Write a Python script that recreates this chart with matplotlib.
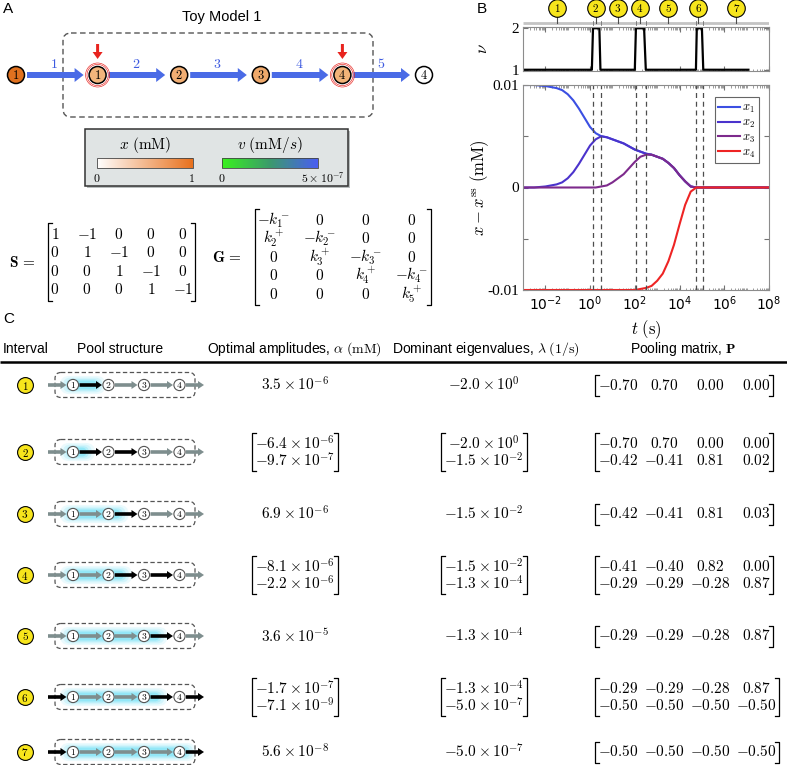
import numpy as np
import matplotlib.pyplot as plt
from matplotlib.patches import Circle, FancyBboxPatch, FancyArrow, Rectangle
from matplotlib.colors import LinearSegmentedColormap
from matplotlib.ticker import FixedLocator, LogLocator, NullFormatter, LogFormatterMathtext

plt.rcParams["mathtext.fontset"] = "cm"
plt.rcParams["font.family"] = ["DejaVu Sans"]

W, H = 787, 765
SANS = ["Liberation Sans", "DejaVu Sans"]
SERIF = ["Liberation Serif", "DejaVu Serif"]

# ---------------- data: panel A ----------------
node_labels = ["1", "1", "2", "3", "4", "4"]
node_colors = ["#e0711f", "#f3b57c", "#f1ae73", "#efa96b", "#f2b378", "#ffffff"]
rate_labels = ["1", "2", "3", "4", "5"]
perturbed_nodes = [1, 4]

S_rows = [["1", "-1", "0", "0", "0"],
          ["0", "1", "-1", "0", "0"],
          ["0", "0", "1", "-1", "0"],
          ["0", "0", "0", "1", "-1"]]
G_rows = [[r"-k_1^-", "0", "0", "0"],
          [r"k_2^+", r"-k_2^-", "0", "0"],
          ["0", r"k_3^+", r"-k_3^-", "0"],
          ["0", "0", r"k_4^+", r"-k_4^-"],
          ["0", "0", "0", r"k_5^+"]]

# ---------------- data: panel B ----------------
nu_t = [1e-3, 1.2, 1.35, 2.6, 2.9, 100, 112, 260, 310, 5.4e4, 5.9e4, 1.0e5, 1.15e5, 1.2e7]
nu_v = [1, 1, 2, 2, 1, 1, 2, 2, 1, 1, 2, 2, 1, 1]
bounds_t = [1.3, 3.0, 110, 310, 5.7e4, 1.15e5]
interval_t = [0.034, 1.8, 17, 166, 3.2e3, 6.8e4, 3.5e6]
interval_names = ["1", "2", "3", "4", "5", "6", "7"]

log_t = [-3, -2.5, -2, -1.75, -1.5, -1.25, -1, -0.75, -0.5, -0.25, 0, 0.25, 0.5,
         0.75, 1, 1.25, 1.5, 1.75, 2, 2.25, 2.5, 2.75, 3, 3.25, 3.5, 3.75, 4,
         4.25, 4.5, 4.75, 5, 6, 7, 8]
x1 = [0.0100, 0.0100, 0.0099, 0.0098, 0.0097, 0.0095, 0.0091, 0.0085, 0.0077,
      0.0068, 0.0059, 0.0053, 0.0050, 0.0049, 0.0047, 0.0045, 0.0043, 0.0040,
      0.0037, 0.0035, 0.0033, 0.0032, 0.0030, 0.0028, 0.0024, 0.0019, 0.0012,
      0.0006, 0.0001, 0.0, 0.0, 0.0, 0.0, 0.0]
x2 = [0.0, 0.0, 0.0001, 0.0002, 0.0003, 0.0005, 0.0009, 0.0015, 0.0023,
      0.0032, 0.0041, 0.0047, 0.0050, 0.0049, 0.0047, 0.0045, 0.0043, 0.0040,
      0.0037, 0.0035, 0.0033, 0.0032, 0.0030, 0.0028, 0.0024, 0.0019, 0.0012,
      0.0006, 0.0001, 0.0, 0.0, 0.0, 0.0, 0.0]
x3 = [0.0, 0.0, 0.0, 0.0, 0.0, 0.0, 0.0, 0.0, 0.0, 0.0, 0.0, 0.0, 0.0001,
      0.0002, 0.0005, 0.0009, 0.0013, 0.0019, 0.0025, 0.0030, 0.0032, 0.0032,
      0.0030, 0.0028, 0.0024, 0.0019, 0.0012, 0.0006, 0.0001, 0.0, 0.0, 0.0,
      0.0, 0.0]
x4 = [-0.0100] * 19 + [-0.0099, -0.0098, -0.0096, -0.0091, -0.0084, -0.0072,
                       -0.0056, -0.0036, -0.0017, -0.0004, 0.0, 0.0, 0.0, 0.0, 0.0]
curve_colors = ["#3b4fe2", "#4b33cc", "#7d2a8c", "#ee2424"]
curve_names = [r"$x_1$", r"$x_2$", r"$x_3$", r"$x_4$"]

# ---------------- data: panel C ----------------
amplitudes = [[r"3.5\times10^{-6}"],
              [r"-6.4\times10^{-6}", r"-9.7\times10^{-7}"],
              [r"6.9\times10^{-6}"],
              [r"-8.1\times10^{-6}", r"-2.2\times10^{-6}"],
              [r"3.6\times10^{-5}"],
              [r"-1.7\times10^{-7}", r"-7.1\times10^{-9}"],
              [r"5.6\times10^{-8}"]]
eigenvalues = [[r"-2.0\times10^{0}"],
               [r"-2.0\times10^{0}", r"-1.5\times10^{-2}"],
               [r"-1.5\times10^{-2}"],
               [r"-1.5\times10^{-2}", r"-1.3\times10^{-4}"],
               [r"-1.3\times10^{-4}"],
               [r"-1.3\times10^{-4}", r"-5.0\times10^{-7}"],
               [r"-5.0\times10^{-7}"]]
pooling = [[[-0.70, 0.70, 0.00, 0.00]],
           [[-0.70, 0.70, 0.00, 0.00], [-0.42, -0.41, 0.81, 0.02]],
           [[-0.42, -0.41, 0.81, 0.03]],
           [[-0.41, -0.40, 0.82, 0.00], [-0.29, -0.29, -0.28, 0.87]],
           [[-0.29, -0.29, -0.28, 0.87]],
           [[-0.29, -0.29, -0.28, 0.87], [-0.50, -0.50, -0.50, -0.50]],
           [[-0.50, -0.50, -0.50, -0.50]]]
# dominant arrows: in, 1->2, 2->3, 3->4, out
active = [[0, 1, 0, 0, 0], [0, 1, 1, 0, 0], [0, 0, 1, 0, 0], [0, 0, 1, 1, 0],
          [0, 0, 0, 1, 0], [1, 0, 0, 1, 1], [1, 0, 0, 0, 1]]
# pooled region (node index from, to)
glow = [(0, 0.55), (0, 0.25), (0, 1.2), (0, 1.3), (0, 2.3), (0, 2.3), (0, 3.1)]
row_y = [385, 452, 514, 575, 636, 697, 752]

fig = plt.figure(figsize=(7.87, 7.65), dpi=100)
ax0 = fig.add_axes([0, 0, 1, 1])
ax0.set_xlim(0, W)
ax0.set_ylim(H, 0)
ax0.axis("off")


def tex(s):
    return "$" + s + "$"


pending = []


def put_matrix(xs, cy, rows, dy, fs=11, bracket=True, pad=3):
    nr = len(rows)
    arts = []
    for i, row in enumerate(rows):
        for j, s in enumerate(row):
            y = cy + (i - (nr - 1) / 2) * dy
            arts.append(ax0.text(xs[j], y, tex(s), ha="center", va="center", fontsize=fs))
    if bracket:
        pending.append((arts, cy, nr, dy, pad))


# ---------------- panel A ----------------
ax0.text(3, 9, "A", fontsize=11, family=SANS, va="center")
ax0.text(222, 17, "Toy Model 1", fontsize=10.5, family=SANS, ha="center", va="center")
ax0.add_patch(FancyBboxPatch((63, 33), 310, 84, boxstyle="round,pad=0,rounding_size=8",
                             fc="none", ec="#555555", lw=1, ls=(0, (4, 2.5))))
node_x = [16 + 81.6 * i for i in range(6)]
ny = 75
for i in range(5):
    x_start = node_x[i] + 11
    x_end = node_x[i + 1] - 14
    ax0.add_patch(FancyArrow(x_start, ny, x_end - x_start, 0, width=6, head_width=14,
                             head_length=9, length_includes_head=True,
                             color="#4a6be6", lw=0, zorder=2))
    ax0.text((x_start + x_end) / 2 - 1, 64, tex(rate_labels[i]), color="#3d5ae0",
             fontsize=10, ha="center", va="center")
for i, (x, lab, c) in enumerate(zip(node_x, node_labels, node_colors)):
    ax0.add_patch(Circle((x, ny), 8.5, fc=c, ec="k", lw=1.1, zorder=3))
    ax0.text(x, ny + 0.5, tex(lab), fontsize=9, ha="center", va="center", zorder=4)
for i in perturbed_nodes:
    for r in (10.6, 12.0):
        ax0.add_patch(Circle((node_x[i], ny), r, fc="none", ec="#e8231e", lw=0.45,
                             zorder=3))
    ax0.add_patch(FancyArrow(node_x[i], 44, 0, 15, width=3, head_width=10, head_length=7,
                             length_includes_head=True, color="#e8231e", lw=0, zorder=3))

# colour legend box
ax0.add_patch(Rectangle((87, 131), 263, 57, fc="#b9bebe", ec="none", zorder=1))
ax0.add_patch(Rectangle((85, 129), 263, 57, fc="#e0e4e4", ec="#333333", lw=1.1, zorder=2))
grad = np.linspace(0, 1, 256).reshape(1, -1)
cm_x = LinearSegmentedColormap.from_list("cx", ["#ffffff", "#e8711d"])
cm_v = LinearSegmentedColormap.from_list("cv", ["#39f21e", "#3c9a6c", "#4a5ef2"])
ax0.imshow(grad, extent=(97, 193, 168, 158), aspect="auto", cmap=cm_x, zorder=3)
ax0.imshow(grad, extent=(222, 318, 168, 158), aspect="auto", cmap=cm_v, zorder=3)
for x in (97, 222):
    ax0.add_patch(Rectangle((x, 158), 96, 10, fc="none", ec="#444444", lw=0.6, zorder=4))
ax0.text(145, 145, r"$x\ (\mathrm{mM})$", fontsize=11, ha="center", va="center", zorder=4)
ax0.text(270, 145, r"$v\ (\mathrm{mM}/s)$", fontsize=11, ha="center", va="center", zorder=4)
ax0.text(97, 178, "$0$", fontsize=8.5, ha="center", va="center", zorder=4)
ax0.text(191, 178, "$1$", fontsize=8.5, ha="center", va="center", zorder=4)
ax0.text(222, 178, "$0$", fontsize=8.5, ha="center", va="center", zorder=4)
ax0.text(345, 178, r"$5\times10^{-7}$", fontsize=8.5, ha="right", va="center", zorder=4)

# matrices S and G
ax0.text(22, 262, r"$\mathbf{S}\,=$", fontsize=11, ha="center", va="center")
put_matrix([55 + 32 * j for j in range(5)], 262, S_rows, 18.5, pad=2)
ax0.text(227, 257, r"$\mathbf{G}\,=$", fontsize=11, ha="center", va="center")
put_matrix([274 + 46 * j for j in range(4)], 257, G_rows, 18.5, pad=2)

# ---------------- panel C ----------------
ax0.text(3, 319, "C", fontsize=11, family=SANS, va="center")
hy = 349
hfs = 10
ax0.text(26, hy, "Interval", fontsize=hfs, family=SANS, ha="center", va="center")
ax0.text(120, hy, "Pool structure", fontsize=hfs, family=SANS, ha="center", va="center")
ax0.text(294, hy, r"Optimal amplitudes, $\alpha$ $(\mathrm{mM})$", fontsize=hfs,
         family=SANS, ha="center", va="center")
ax0.text(486, hy, r"Dominant eigenvalues, $\lambda$ $(1/\mathrm{s})$", fontsize=hfs,
         family=SANS, ha="center", va="center")
ax0.text(683, hy, r"Pooling matrix, $\mathbf{P}$", fontsize=hfs, family=SANS,
         ha="center", va="center")
ax0.plot([0, W], [362, 362], color="k", lw=1.8, solid_capstyle="butt")

pool_x = [73 + 35.5 * i for i in range(4)]
for k, cy in enumerate(row_y):
    ax0.scatter([25], [cy], s=130, c="#f7e51c", edgecolors="k", linewidths=0.8, zorder=3)
    ax0.text(25, cy + 0.5, tex(interval_names[k]), fontsize=8, ha="center", va="center",
             zorder=4)
    # glow
    g0, g1 = glow[k]
    xa = pool_x[0] + 35.5 * g0
    xb = pool_x[0] + 35.5 * g1
    for ext, al in [(11, 0.10), (8, 0.14), (5, 0.2), (2.5, 0.28)]:
        hh = 3 + ext * 0.55
        ax0.add_patch(FancyBboxPatch((xa - ext - 2, cy - hh), xb - xa + 2 * ext + 4, 2 * hh,
                                     boxstyle="round,pad=0,rounding_size=%g" % hh,
                                     fc="#3fd6f4", ec="none", alpha=al, zorder=1))
    ax0.add_patch(FancyBboxPatch((55, cy - 12.5), 140, 25,
                                 boxstyle="round,pad=0,rounding_size=6",
                                 fc="none", ec="#555555", lw=0.9, ls=(0, (3.5, 2)), zorder=2))
    segs = [(48, pool_x[0] - 6.5)]
    segs += [(pool_x[i] + 6.5, pool_x[i + 1] - 6.5) for i in range(3)]
    segs += [(pool_x[3] + 6.5, 204)]
    for (s0, s1), on in zip(segs, active[k]):
        ax0.add_patch(FancyArrow(s0, cy, s1 - s0, 0, width=3.6, head_width=8, head_length=6,
                                 length_includes_head=True, lw=0,
                                 color="k" if on else "#7e8e8e", zorder=3))
    for i, x in enumerate(pool_x):
        ax0.add_patch(Circle((x, cy), 5.6, fc="white", ec="#555555", lw=0.8, zorder=4))
        ax0.text(x, cy + 0.3, tex(str(i + 1)), fontsize=7, ha="center", va="center", zorder=5)

    amp = amplitudes[k]
    put_matrix([295], cy, [[a] for a in amp], 17, bracket=len(amp) > 1)
    eig = eigenvalues[k]
    put_matrix([484], cy, [[e] for e in eig], 17, bracket=len(eig) > 1)
    P = [["%.2f" % v for v in row] for row in pooling[k]]
    put_matrix([618 + 46 * j for j in range(4)], cy, P, 17)

# ---------------- panel B ----------------
def px_axes(l, t, r, b):
    return fig.add_axes([l / W, 1 - b / H, (r - l) / W, (b - t) / H])


def style(ax):
    for s in ax.spines.values():
        s.set_color("0.55")
        s.set_linewidth(0.8)
    ax.set_xscale("log")
    ax.set_xlim(1e-3, 1e8)
    ax.xaxis.set_major_locator(FixedLocator([1e-2, 1, 1e2, 1e4, 1e6, 1e8]))
    ax.xaxis.set_minor_locator(LogLocator(base=10, subs=np.arange(1, 10), numticks=40))
    ax.xaxis.set_minor_formatter(NullFormatter())
    ax.tick_params(which="both", direction="in", top=True, right=True, color="0.45",
                   labelsize=10, pad=3)
    ax.tick_params(which="major", length=3.5)
    ax.tick_params(which="minor", length=1.8, width=0.5)


ax0.text(477, 9, "B", fontsize=11, family=SANS, va="center")

axm = px_axes(523, 0, 769, 27)
axm.set_xscale("log")
axm.set_xlim(1e-3, 1e8)
axm.set_ylim(27, 0)
axm.axis("off")
axm.plot([1e-3, 1e8], [22.5, 22.5], color="#c4c4c4", lw=2, solid_capstyle="butt")
for t in bounds_t:
    axm.plot([t, t], [20.5, 24.8], color="0.45", lw=0.6)
for t in interval_t:
    axm.plot([t, t], [15, 22.5], color="0.3", lw=0.8)
axm.scatter(interval_t, [8] * len(interval_t), s=160, c="#f7e51c", edgecolors="k",
            linewidths=0.8, zorder=3, clip_on=False)
for t, n in zip(interval_t, interval_names):
    axm.text(t, 8.5, tex(n), fontsize=8, ha="center", va="center", zorder=4)

axn = px_axes(523, 27, 769, 71)
style(axn)
axn.plot(nu_t, nu_v, color="k", lw=1.6)
axn.set_ylim(0.97, 2.03)
axn.set_yticks([1, 2])
axn.set_yticklabels(["1", "2"], family=SERIF, fontsize=11)
axn.set_xticklabels([])
axn.set_ylabel(r"$\nu$", fontsize=12)
axn.yaxis.set_label_coords(-0.13, 0.5)

axb = px_axes(523, 85, 769, 290)
style(axb)
tt = [10.0 ** v for v in log_t]
for ys, c, n in zip([x1, x2, x3, x4], curve_colors, curve_names):
    axb.plot(tt, ys, color=c, lw=1.5, label=n)
for t in bounds_t:
    axb.axvline(t, color="0.3", lw=0.9, ls=(0, (4, 3)))
axb.set_ylim(-0.01, 0.01)
axb.set_yticks([-0.01, -0.005, 0, 0.005, 0.01])
axb.set_yticklabels(["-0.01", "", "0", "", "0.01"], family=SERIF, fontsize=11)
axb.xaxis.set_major_formatter(LogFormatterMathtext())
axb.set_ylabel(r"$x - x^{\mathrm{ss}}\ (\mathrm{mM})$", fontsize=12)
axb.yaxis.set_label_coords(-0.13, 0.5)
axb.set_xlabel(r"$t\ (\mathrm{s})$", fontsize=12)
axb.xaxis.set_label_coords(0.5, -0.14)
leg = axb.legend(loc="upper right", bbox_to_anchor=(0.985, 0.97), fontsize=9,
                 handlelength=1.7, handletextpad=0.2, labelspacing=0.05, borderpad=0.3,
                 fancybox=False, edgecolor="0.4", framealpha=1)
leg.get_frame().set_linewidth(0.8)

# brackets for matrices
fig.canvas.draw()
rend = fig.canvas.get_renderer()
inv = ax0.transData.inverted()
for arts, cy, nr, dy, pad in pending:
    bbs = [a.get_window_extent(rend) for a in arts]
    xl = inv.transform((min(b.x0 for b in bbs), 0))[0] - pad
    xr = inv.transform((max(b.x1 for b in bbs), 0))[0] + pad
    top = cy - nr * dy / 2 - 2
    bot = cy + nr * dy / 2 + 2
    ax0.plot([xl + 4, xl, xl, xl + 4], [top, top, bot, bot], color="k", lw=0.9)
    ax0.plot([xr - 4, xr, xr, xr - 4], [top, top, bot, bot], color="k", lw=0.9)

ax0.set_xlim(0, W)
ax0.set_ylim(H, 0)
fig.savefig("out.png", dpi=100)
